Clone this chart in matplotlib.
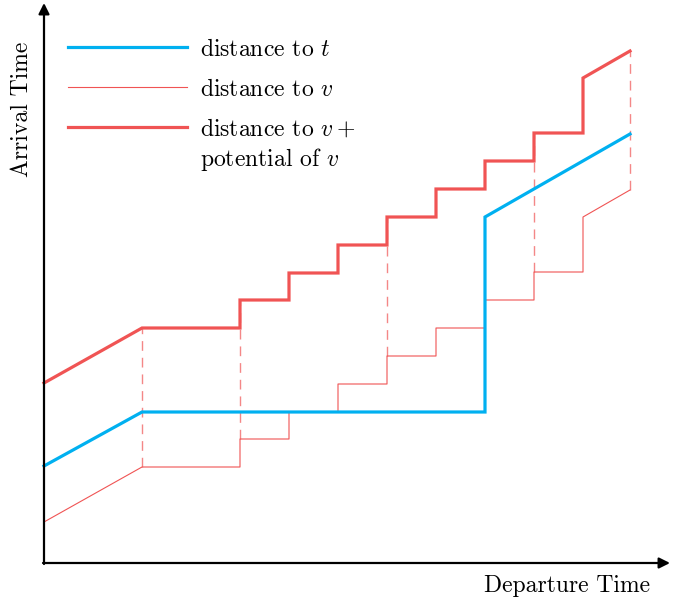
import matplotlib.pyplot as plt

plt.rcParams['font.family'] = 'cmr10'
plt.rcParams['mathtext.fontset'] = 'cm'
plt.rcParams['axes.formatter.use_mathtext'] = True

# departure / arrival values (arbitrary units, origin at axes corner)
blue_x = [0, 98, 441, 441, 586]
blue_y = [97, 151, 151, 346, 429]

dist_v_x = [0, 98, 196, 196, 245, 245, 294, 294, 343, 343, 392, 392,
            441, 441, 490, 490, 539, 539, 586]
dist_v_y = [41, 96, 96, 124, 124, 151, 151, 179, 179, 207, 207, 235,
            235, 263, 263, 291, 291, 346, 373]

pot_x = dist_v_x
pot_y = [180, 235, 235, 263, 263, 290, 290, 318, 318, 346, 346, 374,
         374, 402, 402, 430, 430, 485, 512]

dash_x = [98, 196, 343, 490, 586]
dash_lo = [96, 124, 207, 291, 373]
dash_hi = [235, 263, 346, 430, 512]

labels = [r'distance to $t$', r'distance to $v$', r'distance to $v+$', r'potential of $v$']

blue = '#00b0f0'
red = '#f05454'

fig = plt.figure(figsize=(6.73, 6.01), dpi=100)
ax = fig.add_axes([0, 0, 1, 1])
ax.set_xlim(-44, 629)
ax.set_ylim(-38, 563)
ax.axis('off')

# axes with arrows
ax.annotate('', xy=(0, 560), xytext=(0, -1),
            arrowprops=dict(arrowstyle='-|>', lw=1.6, color='black', mutation_scale=16,
                            shrinkA=0, shrinkB=0))
ax.annotate('', xy=(626, 0), xytext=(-1, 0),
            arrowprops=dict(arrowstyle='-|>', lw=1.6, color='black', mutation_scale=16,
                            shrinkA=0, shrinkB=0))

for x, lo, hi in zip(dash_x, dash_lo, dash_hi):
    ax.plot([x, x], [lo, hi], color=red, lw=1.0, alpha=0.7, dashes=(7, 5))

ax.plot(dist_v_x, dist_v_y, color=red, lw=0.8)
ax.plot(pot_x, pot_y, color=red, lw=2.3, solid_joinstyle='miter')
ax.plot(blue_x, blue_y, color=blue, lw=2.3, solid_joinstyle='miter')

# legend drawn by hand
leg_y = [516, 476, 436]
ax.plot([24, 143], [leg_y[0]] * 2, color=blue, lw=2.3)
ax.plot([24, 143], [leg_y[1]] * 2, color=red, lw=0.8)
ax.plot([24, 143], [leg_y[2]] * 2, color=red, lw=2.3)
for y, lab in zip(leg_y + [407], labels):
    ax.text(156, y, lab, fontsize=17, va='center_baseline', ha='left')

ax.text(-22, 454, 'Arrival Time', rotation=90, fontsize=17, ha='center', va='center')
ax.text(606, -23, 'Departure Time', fontsize=17, ha='right', va='center')

fig.savefig('out.png', dpi=100)
